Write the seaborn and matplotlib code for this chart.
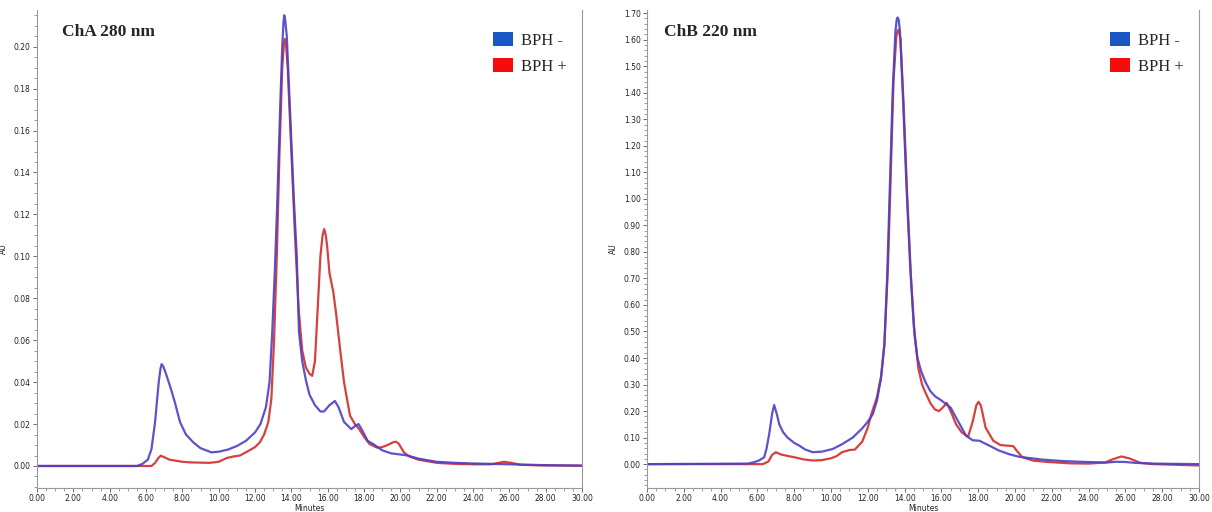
import matplotlib
matplotlib.use("Agg")
import matplotlib.pyplot as plt
from matplotlib.patches import Patch
from matplotlib.ticker import MultipleLocator, FormatStrFormatter
import seaborn as sns
import pandas as pd

# ---------------- data: ChA 280 nm ----------------
a_blue_t = [0, 5.5, 5.8, 6.1, 6.3, 6.5, 6.7, 6.8, 6.86, 6.95, 7.1, 7.25, 7.4, 7.6, 7.87, 8.2,
            8.6, 9.0, 9.6, 10.0, 10.5, 11.0, 11.5, 12.0, 12.3, 12.6, 12.8, 12.95, 13.1, 13.23,
            13.4, 13.5, 13.57, 13.61, 13.66, 13.75, 13.9, 14.14, 14.3, 14.42, 14.6, 14.8, 15.0,
            15.3, 15.6, 15.8, 16.1, 16.4, 16.6, 16.9, 17.3, 17.5, 17.7, 17.9, 18.2, 18.5, 19.0,
            19.5, 19.8, 20.4, 21.0, 22.0, 23.0, 24.0, 25.0, 26.0, 27.0, 28.0, 30.0]
a_blue_v = [0, 0, 0.001, 0.003, 0.008, 0.021, 0.040, 0.0465, 0.0486, 0.0475, 0.044, 0.040,
            0.036, 0.030, 0.021, 0.015, 0.0113, 0.0085, 0.0065, 0.0068, 0.0078, 0.0095, 0.012,
            0.016, 0.020, 0.028, 0.040, 0.064, 0.095, 0.127, 0.175, 0.200, 0.212, 0.215, 0.213,
            0.205, 0.175, 0.127, 0.100, 0.064, 0.050, 0.041, 0.034, 0.029, 0.026, 0.026, 0.029,
            0.031, 0.028, 0.021, 0.0176, 0.019, 0.020, 0.017, 0.012, 0.0105, 0.0075, 0.006,
            0.0057, 0.005, 0.0035, 0.002, 0.0015, 0.0012, 0.001, 0.0008, 0.0006, 0.0004, 0.0002]

a_red_t = [0, 6.3, 6.5, 6.7, 6.82, 7.0, 7.3, 8.0, 8.5, 9.5, 10.0, 10.44, 10.8, 11.17, 11.6, 12.0,
           12.27, 12.5, 12.73, 12.9, 13.05, 13.2, 13.35, 13.5, 13.6, 13.65, 13.7, 13.8, 14.0,
           14.2, 14.4, 14.6, 14.8, 15.0, 15.15, 15.3, 15.45, 15.6, 15.72, 15.81, 15.9, 15.98,
           16.1, 16.31, 16.46, 16.68, 16.9, 17.23, 17.5, 17.7, 18.0, 18.3, 18.7, 18.97, 19.3,
           19.6, 19.74, 19.9, 20.2, 20.5, 21.0, 22.0, 23.0, 24.0, 25.0, 25.4, 25.7, 26.1, 26.6,
           27.5, 30.0]
a_red_v = [0, 0, 0.0015, 0.004, 0.0049, 0.0042, 0.003, 0.002, 0.0017, 0.0015, 0.002, 0.0038,
           0.0045, 0.005, 0.007, 0.009, 0.0113, 0.015, 0.0208, 0.032, 0.060, 0.100, 0.150, 0.190,
           0.202, 0.2037, 0.202, 0.190, 0.150, 0.110, 0.075, 0.055, 0.047, 0.044, 0.043, 0.050,
           0.075, 0.100, 0.110, 0.113, 0.110, 0.104, 0.092, 0.083, 0.073, 0.056, 0.040, 0.024,
           0.020, 0.018, 0.014, 0.0105, 0.0088, 0.0089, 0.010, 0.0113, 0.0116, 0.0108, 0.0065,
           0.0045, 0.003, 0.0015, 0.001, 0.0008, 0.0008, 0.0015, 0.002, 0.0015, 0.0006, 0.0003,
           0.0001]

# ---------------- data: ChB 220 nm ----------------
b_blue_t = [0, 5.5, 5.82, 6.1, 6.37, 6.5, 6.64, 6.8, 6.91, 7.05, 7.19, 7.4, 7.64, 8.0, 8.27, 8.6,
            9.0, 9.5, 10.09, 10.6, 11.18, 11.7, 12.0, 12.27, 12.5, 12.72, 12.9, 13.05, 13.2,
            13.35, 13.5, 13.57, 13.62, 13.68, 13.75, 13.9, 14.1, 14.3, 14.5, 14.7, 14.9, 15.13,
            15.4, 15.65, 16.0, 16.5, 17.0, 17.34, 17.7, 18.08, 18.3, 18.6, 19.1, 19.66, 20.2,
            20.7, 21.5, 22.5, 23.5, 24.5, 25.0, 25.5, 26.0, 26.5, 27.5, 30.0]
b_blue_v = [0, 0.002, 0.0075, 0.014, 0.026, 0.060, 0.113, 0.190, 0.2227, 0.190, 0.150, 0.120,
            0.100, 0.080, 0.070, 0.055, 0.045, 0.047, 0.057, 0.075, 0.100, 0.135, 0.160, 0.188,
            0.240, 0.325, 0.450, 0.700, 1.050, 1.400, 1.630, 1.675, 1.684, 1.675, 1.630, 1.400,
            1.050, 0.750, 0.520, 0.400, 0.350, 0.310, 0.275, 0.256, 0.240, 0.213, 0.150, 0.107,
            0.090, 0.088, 0.080, 0.070, 0.052, 0.038, 0.028, 0.0236, 0.017, 0.012, 0.009, 0.007,
            0.006, 0.009, 0.008, 0.005, 0.002, 0.0]

b_red_t = [0, 6.3, 6.6, 6.8, 7.0, 7.3, 7.7, 8.0, 8.5, 9.0, 9.5, 10.0, 10.3, 10.6, 11.0, 11.3,
           11.7, 12.0, 12.2, 12.49, 12.72, 12.9, 13.1, 13.25, 13.4, 13.55, 13.6, 13.65, 13.7,
           13.78, 13.95, 14.15, 14.35, 14.55, 14.75, 14.95, 15.13, 15.4, 15.65, 15.87, 16.1,
           16.29, 16.5, 16.8, 17.1, 17.45, 17.7, 17.9, 18.02, 18.15, 18.4, 18.82, 19.2, 19.5,
           19.9, 20.1, 20.4, 21.0, 21.8, 23.0, 24.0, 24.9, 25.3, 25.78, 26.2, 26.8, 27.5, 30.0]
b_red_v = [0, 0, 0.010, 0.035, 0.0448, 0.036, 0.030, 0.026, 0.018, 0.0137, 0.015, 0.022, 0.030,
           0.045, 0.053, 0.055, 0.085, 0.138, 0.190, 0.250, 0.330, 0.450, 0.750, 1.100, 1.450,
           1.610, 1.630, 1.637, 1.630, 1.600, 1.350, 1.000, 0.700, 0.480, 0.360, 0.300, 0.270,
           0.230, 0.206, 0.200, 0.215, 0.231, 0.200, 0.150, 0.120, 0.103, 0.160, 0.222, 0.235,
           0.220, 0.138, 0.088, 0.072, 0.070, 0.068, 0.050, 0.026, 0.013, 0.008, 0.003, 0.002,
           0.006, 0.018, 0.029, 0.022, 0.005, 0.0, -0.005]

series_labels = ["BPH -", "BPH +"]
panel_titles = ["ChA 280 nm", "ChB 220 nm"]
x_label = "Minutes"
y_label = "AU"

line_blue = "#4b40c6"
line_red = "#d42b2b"
patch_blue = "#1857c4"
patch_red = "#f50d0d"

sns.set_style("white")
plt.rcParams["font.family"] = ["DejaVu Sans"]

fig = plt.figure(figsize=(12.12, 5.12), dpi=100)
ax1 = fig.add_axes([37 / 1212, 1 - 488 / 512, 545 / 1212, 478 / 512])
ax2 = fig.add_axes([647 / 1212, 1 - 488 / 512, 552 / 1212, 478 / 512])

panels = [
    (ax1, a_blue_t, a_blue_v, a_red_t, a_red_v, (-0.0105, 0.2175), 0.02, 0.005, "%.2f"),
    (ax2, b_blue_t, b_blue_v, b_red_t, b_red_v, (-0.09, 1.712), 0.10, 0.02, "%.2f"),
]

for i, (ax, bt, bv, rt, rv, ylim, ymaj, ymin, fmt) in enumerate(panels):
    df_b = pd.DataFrame({"t": bt, "v": bv})
    df_r = pd.DataFrame({"t": rt, "v": rv})
    sns.lineplot(data=df_r, x="t", y="v", ax=ax, color=line_red, lw=1.6, alpha=0.9)
    sns.lineplot(data=df_b, x="t", y="v", ax=ax, color=line_blue, lw=1.6, alpha=0.9)
    ax.set_xlim(0, 30)
    ax.set_ylim(*ylim)
    ax.xaxis.set_major_locator(MultipleLocator(2))
    ax.xaxis.set_minor_locator(MultipleLocator(0.5))
    ax.yaxis.set_major_locator(MultipleLocator(ymaj))
    ax.yaxis.set_minor_locator(MultipleLocator(ymin))
    ax.xaxis.set_major_formatter(FormatStrFormatter("%.2f"))
    ax.yaxis.set_major_formatter(FormatStrFormatter(fmt))
    ax.tick_params(axis="both", which="major", direction="out", length=3, width=0.6,
                   colors="#555555", labelsize=5.5, labelcolor="#222222", pad=1.5,
                   bottom=True, left=True)
    ax.tick_params(axis="both", which="minor", direction="out", length=2, width=0.5,
                   colors="#777777", bottom=True, left=True)
    for s in ["left", "bottom", "right"]:
        ax.spines[s].set_color("#9a9a9a")
        ax.spines[s].set_linewidth(0.8)
    ax.spines["top"].set_visible(False)
    ax.set_xlabel(x_label, fontsize=5.5, labelpad=0.5, color="#222222")
    ax.set_ylabel(y_label, fontsize=5.5, labelpad=4, color="#222222")
    ax.text(0.045 if i == 0 else 0.03, 0.955, panel_titles[i], transform=ax.transAxes,
            fontsize=12.5, fontweight="bold", family="Liberation Serif", va="center")
    handles = [Patch(facecolor=patch_blue, edgecolor="none", label=series_labels[0]),
               Patch(facecolor=patch_red, edgecolor="none", label=series_labels[1])]
    ax.legend(handles=handles, loc="upper right", bbox_to_anchor=(1.0, 0.985), frameon=False,
              prop={"family": "Liberation Serif", "size": 12}, handlelength=1.2,
              handleheight=0.9, handletextpad=0.5, labelspacing=0.55)
    ax.grid(False)

fig.savefig("out.png", dpi=100, facecolor="white")
